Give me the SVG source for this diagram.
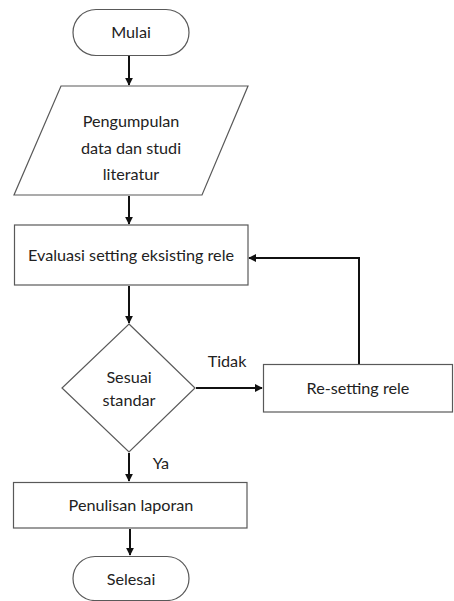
<svg xmlns="http://www.w3.org/2000/svg" width="454" height="601" viewBox="0 0 454 601">
<defs>
<style>
.shape{fill:#fff;stroke:#595959;stroke-width:1.2}
.t{font-family:Lato,"Liberation Sans",sans-serif;font-size:16.2px;fill:#222;text-anchor:middle}
.c{fill:none;stroke:#111;stroke-width:2}
</style>
<marker id="ah" viewBox="0 0 10 10" refX="9" refY="5" markerWidth="4" markerHeight="4" orient="auto" markerUnits="strokeWidth">
<path d="M0,0 L10,5 L0,10 z" fill="#111"/>
</marker>
</defs>
<rect width="454" height="601" fill="#fff"/>
<g id="connectors">
<path class="c" d="M129,56 V85" marker-end="url(#ah)"/>
<path class="c" d="M129,196 V224" marker-end="url(#ah)"/>
<path class="c" d="M129,286 V323" marker-end="url(#ah)"/>
<path class="c" d="M196,388 H262" marker-end="url(#ah)"/>
<path class="c" d="M359,364 V258 H249" marker-end="url(#ah)"/>
<path class="c" d="M129,453 V481" marker-end="url(#ah)"/>
<path class="c" d="M130,529 V555" marker-end="url(#ah)"/>
<text class="t" x="227" y="367">Tidak</text>
<text class="t" x="161" y="469">Ya</text>
</g>
<g id="mulai">
<rect class="shape" x="73" y="9.5" width="116" height="46" rx="23"/>
<text class="t" x="131" y="38">Mulai</text>
</g>
<g id="pengumpulan">
<polygon class="shape" points="61,86 248,86 202,195 14,195"/>
<text class="t" x="131" y="127">Pengumpulan</text>
<text class="t" x="131" y="154">data dan studi</text>
<text class="t" x="131" y="180">literatur</text>
</g>
<g id="evaluasi">
<rect class="shape" x="14.5" y="225" width="233.5" height="60"/>
<text class="t" x="131" y="261">Evaluasi setting eksisting rele</text>
</g>
<g id="sesuai">
<polygon class="shape" points="129,324 195,388 129,452 62,388"/>
<text class="t" x="129" y="383">Sesuai</text>
<text class="t" x="129" y="406">standar</text>
</g>
<g id="resetting">
<rect class="shape" x="263.5" y="364.5" width="189" height="47.5"/>
<text class="t" x="358" y="394">Re-setting rele</text>
</g>
<g id="penulisan">
<rect class="shape" x="13.5" y="482.5" width="233.5" height="45.5"/>
<text class="t" x="131" y="511">Penulisan laporan</text>
</g>
<g id="selesai">
<rect class="shape" x="73" y="556.5" width="116" height="44" rx="22"/>
<text class="t" x="131" y="585">Selesai</text>
</g>
</svg>
